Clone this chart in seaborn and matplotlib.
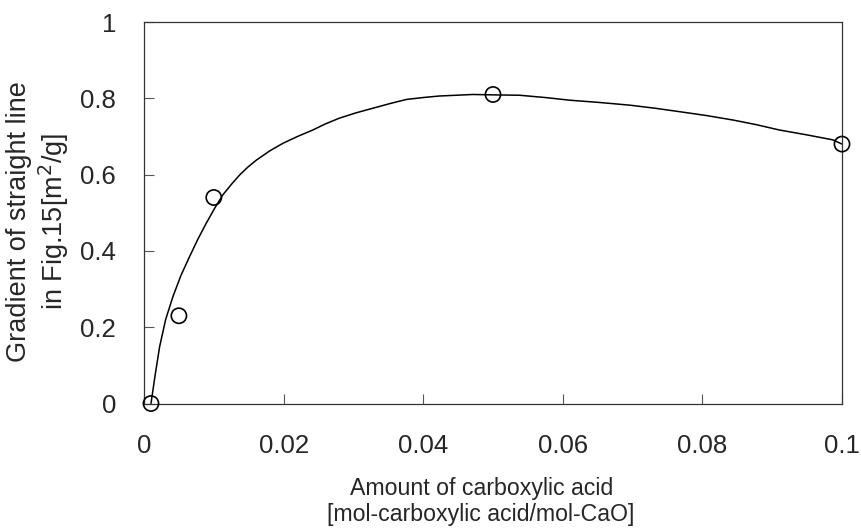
import matplotlib
matplotlib.use("Agg")
import matplotlib.pyplot as plt
import seaborn as sns
import pandas as pd

# measured points
x_points = [0.001, 0.005, 0.01, 0.05, 0.1]
y_points = [0.0, 0.23, 0.54, 0.81, 0.68]

# hand-drawn fitted curve
curve_x = [0.001, 0.0016, 0.00224, 0.0031, 0.00414, 0.0053, 0.00653, 0.0077, 0.0089,
           0.0101, 0.0113, 0.0125, 0.0137, 0.0149, 0.0161, 0.018,
           0.0199, 0.022, 0.0242, 0.026, 0.028, 0.0304, 0.0328, 0.0352, 0.0376,
           0.04, 0.0423, 0.0447, 0.0471, 0.05,
           0.0538, 0.0575, 0.061, 0.0653, 0.0696, 0.0732, 0.0767, 0.0805, 0.0844,
           0.0877, 0.091, 0.095, 0.0987, 0.1]
curve_y = [0.0, 0.075, 0.149, 0.22, 0.28, 0.336, 0.385, 0.43, 0.472,
           0.511, 0.547, 0.574, 0.599, 0.62, 0.638, 0.662,
           0.682, 0.700, 0.717, 0.733, 0.748, 0.762, 0.774, 0.786, 0.797,
           0.802, 0.806, 0.808, 0.810, 0.809,
           0.808, 0.802, 0.795, 0.789, 0.782, 0.774, 0.765, 0.755, 0.743,
           0.731, 0.717, 0.704, 0.691, 0.68]

x_ticks = [0, 0.02, 0.04, 0.06, 0.08, 0.1]
x_tick_labels = ["0", "0.02", "0.04", "0.06", "0.08", "0.1"]
y_ticks = [0, 0.2, 0.4, 0.6, 0.8, 1.0]
y_tick_labels = ["0", "0.2", "0.4", "0.6", "0.8", "1"]

sns.set_theme(style="ticks")
plt.rcParams["font.family"] = ["Liberation Sans", "DejaVu Sans"]

fig = plt.figure(figsize=(8.61, 5.29), dpi=100)
ax = fig.add_axes([144 / 861, 1 - 403.5 / 529, (842 - 144) / 861, (403.5 - 22) / 529])

curve_df = pd.DataFrame({"x": curve_x, "y": curve_y})
pts_df = pd.DataFrame({"x": x_points, "y": y_points})

sns.lineplot(data=curve_df, x="x", y="y", sort=False, color="black", linewidth=1.1, ax=ax)
sns.scatterplot(data=pts_df, x="x", y="y", marker="o", s=120, facecolor="none",
                edgecolor="black", linewidth=1.2, ax=ax, zorder=5, clip_on=False)

ax.set_xlim(0, 0.1)
ax.set_ylim(0, 1)
ax.set_xticks(x_ticks)
ax.set_xticklabels(x_tick_labels)
ax.set_yticks(y_ticks)
ax.set_yticklabels(y_tick_labels)
ax.tick_params(direction="in", length=7, width=0.8, labelsize=18.5, color="#555555")
ax.tick_params(axis="x", pad=22)
ax.tick_params(axis="y", pad=20)
for s in ax.spines.values():
    s.set_visible(True)
    s.set_linewidth(0.9)
    s.set_color("#333333")

ax.set_xlabel("Amount of carboxylic acid\n[mol-carboxylic acid/mol-CaO]", fontsize=16.7,
              linespacing=1.15)
ax.xaxis.set_label_coords(0.483, -0.193)
ax.set_ylabel("Gradient of straight line\nin Fig.15[m$^2$/g]", fontsize=19.5,
              linespacing=1.15)
ax.yaxis.set_label_coords(-0.105, 0.478)

fig.savefig("out.png", dpi=100)
